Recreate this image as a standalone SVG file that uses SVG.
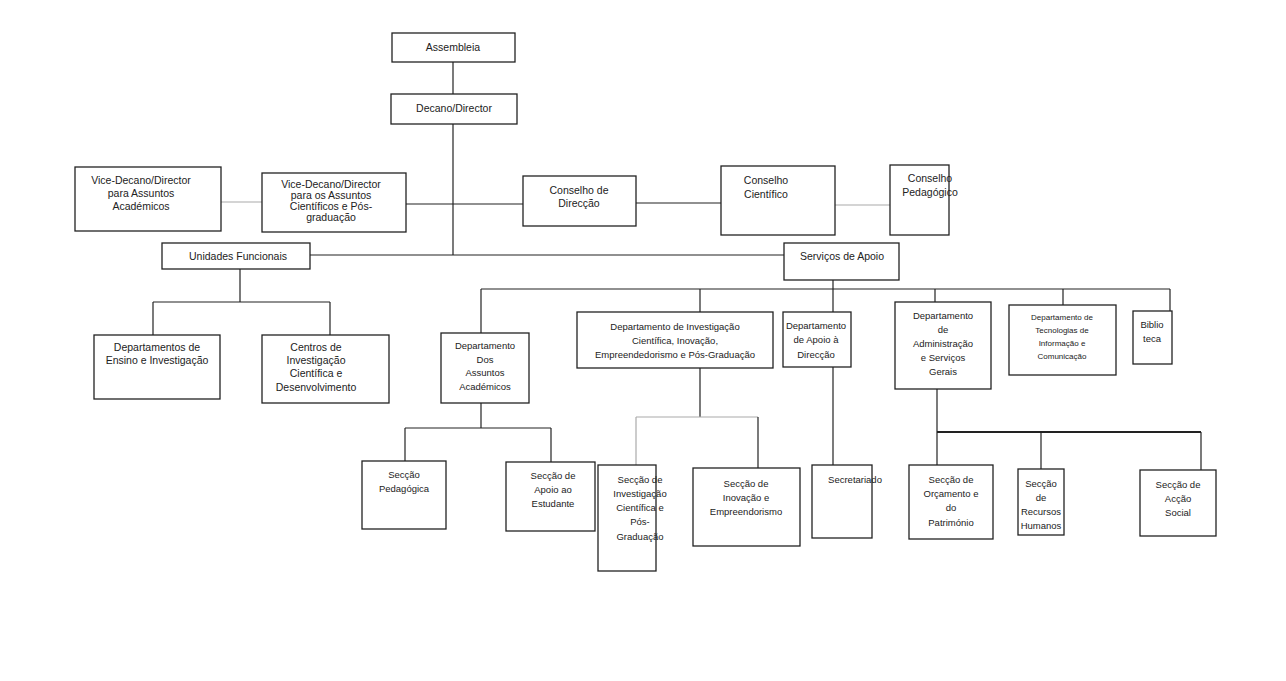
<svg xmlns="http://www.w3.org/2000/svg" width="1286" height="681" viewBox="0 0 1286 681">
<style>
rect{fill:#fff;stroke:#222;stroke-width:1.3}
text{font-family:"Liberation Sans",Arial,sans-serif;font-size:10.5px;fill:#222;text-anchor:middle}
.s{font-size:9.5px}
.xs{font-size:8px}
#c line{stroke:#222;stroke-width:1.2}
#c .g{stroke:#aaa}
#c .t{stroke-width:2.2}
</style>
<rect x="0" y="0" width="1286" height="681" style="stroke:none"/>
<g id="c">
<line x1="453" y1="62" x2="453" y2="94"/>
<line x1="453" y1="124" x2="453" y2="255"/>
<line x1="310" y1="255" x2="784" y2="255"/>
<line class="g" x1="221" y1="202" x2="262" y2="202"/>
<line x1="406" y1="204" x2="523" y2="204"/>
<line x1="636" y1="203" x2="721" y2="203"/>
<line class="g" x1="835" y1="205" x2="890" y2="205"/>
<line x1="240" y1="269" x2="240" y2="302"/>
<line x1="153" y1="302" x2="330" y2="302"/>
<line x1="153" y1="302" x2="153" y2="335"/>
<line x1="330" y1="302" x2="330" y2="335"/>
<line x1="833" y1="280" x2="833" y2="289"/>
<line x1="481" y1="289" x2="1170" y2="289"/>
<line x1="481" y1="289" x2="481" y2="333"/>
<line x1="700" y1="289" x2="700" y2="312"/>
<line x1="833" y1="289" x2="833" y2="312"/>
<line x1="935" y1="289" x2="935" y2="302"/>
<line x1="1063" y1="289" x2="1063" y2="305"/>
<line x1="1170" y1="289" x2="1170" y2="311"/>
<line x1="481" y1="403" x2="481" y2="428"/>
<line x1="405" y1="428" x2="551" y2="428"/>
<line x1="405" y1="428" x2="405" y2="461"/>
<line x1="551" y1="428" x2="551" y2="462"/>
<line x1="700" y1="368" x2="700" y2="417"/>
<line class="g" x1="636" y1="417" x2="758" y2="417"/>
<line class="g" x1="636" y1="417" x2="636" y2="465"/>
<line x1="758" y1="417" x2="758" y2="468"/>
<line x1="833" y1="367" x2="833" y2="465"/>
<line x1="937" y1="389" x2="937" y2="465"/>
<line class="t" x1="937" y1="432" x2="1201" y2="432"/>
<line x1="1041" y1="432" x2="1041" y2="469"/>
<line x1="1201" y1="432" x2="1201" y2="470"/>
</g>
<g id="assembleia"><rect x="392" y="33" width="123" height="29"/><text x="453" y="51">Assembleia</text></g>
<g id="decano"><rect x="391" y="94" width="126" height="30"/><text x="454" y="112">Decano/Director</text></g>
<g id="vd-acad"><rect x="75" y="167" width="146" height="64"/><text x="141" y="184">Vice-Decano/Director</text><text x="141" y="197">para Assuntos</text><text x="141" y="210">Académicos</text></g>
<g id="vd-cient"><rect x="262" y="173" width="144" height="59"/><text x="331" y="188">Vice-Decano/Director</text><text x="331" y="199">para os Assuntos</text><text x="331" y="210">Científicos e Pós-</text><text x="331" y="221">graduação</text></g>
<g id="cons-dir"><rect x="523" y="176" width="113" height="50"/><text x="579" y="194">Conselho de</text><text x="579" y="207">Direcção</text></g>
<g id="cons-cient"><rect x="721" y="166" width="114" height="69"/><text x="766" y="184">Conselho</text><text x="766" y="198">Científico</text></g>
<g id="cons-ped"><rect x="890" y="165" width="59" height="70" style="stroke-width:1.3"/><text x="930" y="182">Conselho</text><text x="930" y="196">Pedagógico</text></g>
<g id="unidades"><rect x="162" y="243" width="148" height="26"/><text x="238" y="260">Unidades Funcionais</text></g>
<g id="servicos"><rect x="784" y="243" width="115" height="37"/><text x="842" y="260">Serviços de Apoio</text></g>
<g id="dep-ensino"><rect x="94" y="335" width="126" height="64"/><text x="157" y="351">Departamentos de</text><text x="157" y="364">Ensino e Investigação</text></g>
<g id="centros"><rect x="262" y="335" width="127" height="68"/><text x="316" y="351">Centros de</text><text x="316" y="364">Investigação</text><text x="316" y="377">Científica e</text><text x="316" y="391">Desenvolvimento</text></g>
<g id="dep-acad"><rect x="441" y="333" width="88" height="70"/><text class="s" x="485" y="349">Departamento</text><text class="s" x="485" y="363">Dos</text><text class="s" x="485" y="376">Assuntos</text><text class="s" x="485" y="390">Académicos</text></g>
<g id="dep-inv"><rect x="577" y="312" width="196" height="56"/><text class="s" x="675" y="330">Departamento de Investigação</text><text class="s" x="675" y="344">Científica, Inovação,</text><text class="s" x="675" y="358">Empreendedorismo e Pós-Graduação</text></g>
<g id="dep-apoio"><rect x="783" y="312" width="68" height="55"/><text class="s" x="816" y="329">Departamento</text><text class="s" x="816" y="343">de Apoio à</text><text class="s" x="816" y="358">Direcção</text></g>
<g id="dep-admin"><rect x="895" y="302" width="96" height="87"/><text class="s" x="943" y="319">Departamento</text><text class="s" x="943" y="333">de</text><text class="s" x="943" y="347">Administração</text><text class="s" x="943" y="361">e Serviços</text><text class="s" x="943" y="375">Gerais</text></g>
<g id="dep-tic"><rect x="1009" y="305" width="107" height="70"/><text class="xs" x="1062" y="320">Departamento de</text><text class="xs" x="1062" y="333">Tecnologias de</text><text class="xs" x="1062" y="346">Informação e</text><text class="xs" x="1062" y="359">Comunicação</text></g>
<g id="biblioteca"><rect x="1133" y="311" width="39" height="53"/><text class="s" x="1152" y="328">Biblio</text><text class="s" x="1152" y="342">teca</text></g>
<g id="sec-ped"><rect x="362" y="461" width="84" height="68"/><text class="s" x="404" y="478">Secção</text><text class="s" x="404" y="492">Pedagógica</text></g>
<g id="sec-apoio"><rect x="506" y="462" width="89" height="69"/><text class="s" x="553" y="479">Secção de</text><text class="s" x="553" y="493">Apoio ao</text><text class="s" x="553" y="507">Estudante</text></g>
<g id="sec-inv"><rect x="598" y="465" width="58" height="106"/><text class="s" x="640" y="483">Secção de</text><text class="s" x="640" y="497">Investigação</text><text class="s" x="640" y="511">Científica e</text><text class="s" x="640" y="525">Pós-</text><text class="s" x="640" y="540">Graduação</text></g>
<g id="sec-inov"><rect x="693" y="468" width="107" height="78"/><text class="s" x="746" y="487">Secção de</text><text class="s" x="746" y="501">Inovação e</text><text class="s" x="746" y="515">Empreendorismo</text></g>
<g id="secretariado"><rect x="812" y="465" width="60" height="73"/><text class="s" x="855" y="483">Secretariado</text></g>
<g id="sec-orc"><rect x="909" y="465" width="84" height="74"/><text class="s" x="951" y="483">Secção de</text><text class="s" x="951" y="497">Orçamento e</text><text class="s" x="951" y="511">do</text><text class="s" x="951" y="526">Património</text></g>
<g id="sec-rh"><rect x="1018" y="469" width="46" height="66"/><text class="s" x="1041" y="487">Secção</text><text class="s" x="1041" y="501">de</text><text class="s" x="1041" y="515">Recursos</text><text class="s" x="1041" y="529">Humanos</text></g>
<g id="sec-accao"><rect x="1140" y="470" width="76" height="66"/><text class="s" x="1178" y="488">Secção de</text><text class="s" x="1178" y="502">Acção</text><text class="s" x="1178" y="516">Social</text></g>
</svg>
